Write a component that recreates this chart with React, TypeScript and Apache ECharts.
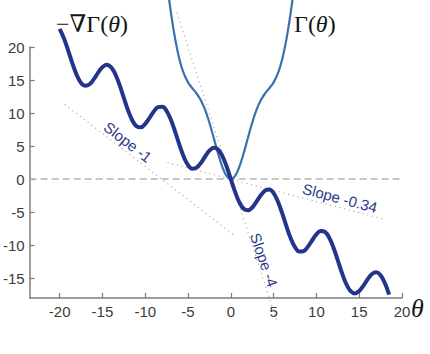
import React, { useEffect, useRef } from "react";
import * as echarts from "echarts";

// -∇Γ(θ) curve
const gradTheta = [
  -20, -19.5, -19, -18.5, -18, -17.5, -17, -16.5, -16, -15.5, -15, -14.5, -14, -13.5, -13, -12.5,
  -12, -11.5, -11, -10.5, -10, -9.5, -9, -8.5, -8, -7.5, -7, -6.5, -6, -5.5, -5, -4.5, -4, -3.5,
  -3, -2.5, -2, -1.5, -1, -0.5, 0, 0.5, 1, 1.5, 2, 2.5, 3, 3.5, 4, 4.5, 5, 5.5, 6, 6.5, 7, 7.5, 8,
  8.5, 9, 9.5, 10, 10.5, 11, 11.5, 12, 12.5, 13, 13.5, 14, 14.5, 15, 15.5, 16, 16.5, 17, 17.5, 18,
  18.5,
];
const gradValues = [
  22.74, 21.32, 19.45, 17.49, 15.75, 14.56, 14.12, 14.36, 15.14, 16.12, 16.95, 17.3, 16.97, 15.91,
  14.26, 12.3, 10.39, 8.87, 8.0, 7.86, 8.37, 9.27, 10.24, 10.9, 10.97, 10.31, 8.97, 7.15, 5.16,
  3.38, 2.12, 1.57, 1.73, 2.45, 3.42, 4.3, 4.73, 4.49, 3.52, 1.94, 0, -1.94, -3.52, -4.49, -4.73,
  -4.3, -3.42, -2.45, -1.73, -1.57, -2.12, -3.38, -5.16, -7.15, -8.97, -10.31, -10.97, -10.9,
  -10.24, -9.27, -8.37, -7.86, -8.0, -8.87, -10.39, -12.3, -14.26, -15.91, -16.97, -17.3, -16.95,
  -16.12, -15.14, -14.36, -14.12, -14.56, -15.75, -17.49,
];

// Γ(θ) curve
const gammaTheta = [
  -7.5, -7, -6.5, -6, -5.5, -5, -4.5, -4, -3.5, -3, -2.5, -2, -1.5, -1, -0.5, 0, 0.5, 1, 1.5, 2,
  2.5, 3, 3.5, 4, 4.5, 5, 5.5, 6, 6.5, 7, 7.5,
];
const gammaValues = [
  30.09, 25.24, 21.2, 18.12, 16.0, 14.65, 13.76, 12.96, 11.93, 10.47, 8.53, 6.25, 3.91, 1.88, 0.49,
  0, 0.49, 1.88, 3.91, 6.25, 8.53, 10.47, 11.93, 12.96, 13.76, 14.65, 16.0, 18.12, 21.2, 25.24,
  30.09,
];

// reference lines (endpoints in data units)
const zeroLine = [[-23.5, 0], [21.3, 0]];
const slopeMinus1 = [[-19.4, 11.3], [0.3, -8.4]];
const slopeMinus034 = [[-7.4, 2.5], [18.0, -6.1]];
const slopeMinus4 = [[-6.3, 25.2], [5.45, -21.8]];

const xTicks = [-20, -15, -10, -5, 0, 5, 10, 15, 20];
const yTicks = [-15, -10, -5, 0, 5, 10, 15, 20];

const slopeLabels = ["Slope -1", "Slope -0.34", "Slope -4"];

export default function App() {
  const ref = useRef<HTMLDivElement>(null);

  useEffect(() => {
    if (!ref.current) return;
    const chart = echarts.init(ref.current, undefined, { renderer: "svg" });
    const axisColor = "#7c7c7c";
    const labelColor = "#3c3c3c";
    const dotted = { color: "#a9a9a9", width: 1.1, type: [1.2, 3.6] as any };
    const serif = "'Liberation Serif', 'DejaVu Serif', serif";
    const sans = "'Liberation Sans', Arial, sans-serif";
    const slopeStyle = {
      fill: "#2b3a8c",
      fontSize: 15,
      fontFamily: sans,
      align: "center",
      verticalAlign: "middle",
    };

    chart.setOption({
      animation: false,
      backgroundColor: "#ffffff",
      grid: { left: 28, right: 28, top: 47, bottom: 56, containLabel: false },
      xAxis: {
        type: "value",
        min: -23.5,
        max: 20,
        axisLine: { show: true, onZero: false, lineStyle: { color: axisColor, width: 1.5 } },
        axisTick: {
          show: true,
          inside: true,
          length: 5,
          customValues: xTicks,
          lineStyle: { color: axisColor, width: 1.2 },
        },
        axisLabel: {
          customValues: xTicks,
          color: labelColor,
          fontSize: 15,
          fontFamily: sans,
          margin: 6,
        },
        splitLine: { show: false },
      },
      yAxis: {
        type: "value",
        min: -18,
        max: 20,
        axisLine: { show: true, onZero: false, lineStyle: { color: axisColor, width: 1.5 } },
        axisTick: {
          show: true,
          inside: true,
          length: 5,
          customValues: yTicks,
          lineStyle: { color: axisColor, width: 1.2 },
        },
        axisLabel: {
          customValues: yTicks,
          color: labelColor,
          fontSize: 15,
          fontFamily: sans,
          margin: 5,
        },
        splitLine: { show: false },
      },
      series: [
        {
          type: "line",
          data: zeroLine,
          symbol: "none",
          clip: false,
          silent: true,
          lineStyle: { color: "#b5b5b5", width: 1.5, type: [7, 4] as any },
        },
        {
          type: "line",
          data: slopeMinus1,
          symbol: "none",
          clip: false,
          silent: true,
          lineStyle: dotted,
        },
        {
          type: "line",
          data: slopeMinus034,
          symbol: "none",
          clip: false,
          silent: true,
          lineStyle: dotted,
        },
        {
          type: "line",
          data: slopeMinus4,
          symbol: "none",
          clip: false,
          silent: true,
          lineStyle: dotted,
        },
        {
          type: "line",
          name: "Γ(θ)",
          data: gammaTheta.map((t, i) => [t, gammaValues[i]]),
          symbol: "none",
          smooth: 0.4,
          clip: false,
          lineStyle: { color: "#3a70ae", width: 2.2 },
        },
        {
          type: "line",
          name: "-∇Γ(θ)",
          data: gradTheta.map((t, i) => [t, gradValues[i]]),
          symbol: "none",
          smooth: 0.4,
          clip: false,
          lineStyle: { color: "#24348a", width: 4 },
        },
      ],
      graphic: [
        {
          type: "text",
          x: 56,
          y: 12,
          style: {
            text: "{a|\u2212\u2207\u0393(}{b|\u03b8}{a|)}",
            rich: {
              a: { fontFamily: serif, fontSize: 24, fill: "#151515" },
              b: { fontFamily: serif, fontSize: 24, fontStyle: "italic", fill: "#151515" },
            },
          },
        },
        {
          type: "text",
          x: 294,
          y: 12,
          style: {
            text: "{a|\u0393(}{b|\u03b8}{a|)}",
            rich: {
              a: { fontFamily: serif, fontSize: 24, fill: "#151515" },
              b: { fontFamily: serif, fontSize: 24, fontStyle: "italic", fill: "#151515" },
            },
          },
        },
        {
          type: "text",
          x: 411,
          y: 295,
          style: {
            text: "\u03b8",
            fontFamily: serif,
            fontSize: 26,
            fontStyle: "italic",
            fill: "#151515",
          },
        },
        {
          type: "text",
          x: 128,
          y: 142,
          rotation: -0.66,
          style: { ...slopeStyle, text: slopeLabels[0] },
        },
        {
          type: "text",
          x: 340,
          y: 198,
          rotation: -0.26,
          style: { ...slopeStyle, text: slopeLabels[1] },
        },
        {
          type: "text",
          x: 264,
          y: 260,
          rotation: -1.24,
          style: { ...slopeStyle, text: slopeLabels[2] },
        },
      ],
    });

    return () => chart.dispose();
  }, []);

  return (
    <div
      ref={ref}
      style={{ position: "fixed", left: 0, top: 0, width: 430, height: 354, background: "#fff" }}
    />
  );
}
